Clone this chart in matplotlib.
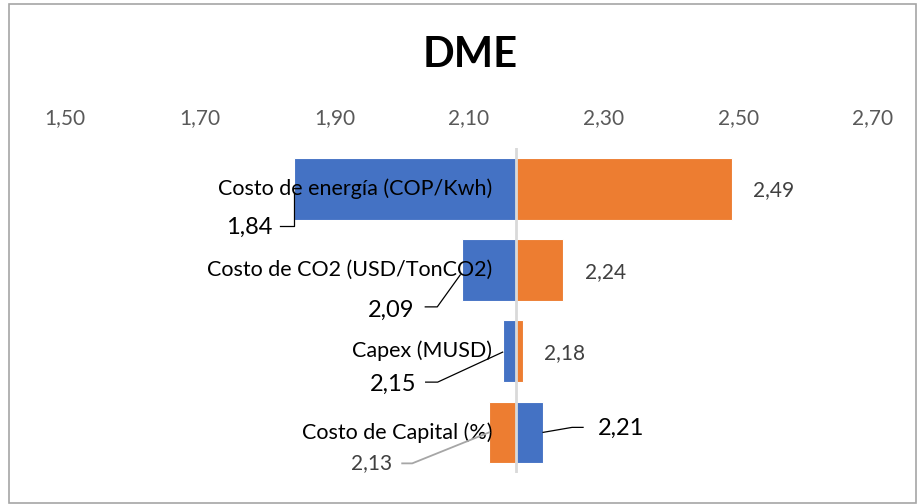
import matplotlib.pyplot as plt
import numpy as np
from matplotlib.patches import Rectangle

# sensitivity of DME cost to each input
categories = ['Costo de energía (COP/Kwh)', 'Costo de CO2 (USD/TonCO2)',
              'Capex (MUSD)', 'Costo de Capital (%)']
base = 2.17
blue_vals = [1.84, 2.09, 2.15, 2.21]
orange_vals = [2.49, 2.24, 2.18, 2.13]
ticks = [1.50, 1.70, 1.90, 2.10, 2.30, 2.50, 2.70]

BLUE = '#4472C4'
ORANGE = '#ED7D31'

# label offsets in pixels from the bar end (dx right, dy down)
blue_label_px = [(-45, 39), (-71, 40), (-110, 33), (78, -4)]
# leader: start, elbow, end on the bar
blue_leader_px = [((-14, 37), (0, 37), (0, 4)),
                  ((-37, 37), (-25, 37), (-2, 5)),
                  ((-77, 31), (-65, 31), (0, 1)),
                  ((40, -5), (29, -5), (0, 0))]
orange_label_px = [(42, 1), (42, 2), (42, 2), (-118, 31)]
orange_leader_px = [None, None, None, ((-87, 31), (-77, 31), (0, 0))]


def fmt(v):
    return f'{v:.2f}'.replace('.', ',')


plt.rcParams['font.family'] = ['Lato', 'DejaVu Sans']

fig = plt.figure(figsize=(9.18, 5.04), dpi=100)
ax = fig.add_axes([65 / 918, 31 / 504, 808 / 918, 325 / 504])

y = np.arange(len(categories))
blue = np.array(blue_vals)
orange = np.array(orange_vals)
ax.barh(y, blue - base, left=base, height=0.76, color=BLUE, edgecolor='white', linewidth=0.8)
ax.barh(y, orange - base, left=base, height=0.76, color=ORANGE, edgecolor='white', linewidth=0.8)
ax.axvline(base, color='#D9D9D9', lw=2, zorder=3)

ax.set_xlim(1.5, 2.7)
ax.set_ylim(3.5, -0.5)
ax.set_xticks(ticks)
ax.set_xticklabels([fmt(t) for t in ticks])
ax.xaxis.tick_top()
ax.tick_params(axis='x', length=0, pad=14, labelsize=15, labelcolor='#595959')
ax.set_yticks([])
for s in ax.spines.values():
    s.set_visible(False)

to_data = ax.transData.inverted()


def px_to_data(x, yv, dx, dy):
    # offset in image pixels (dy down) from a data point
    px, py = ax.transData.transform((x, yv))
    return to_data.transform((px + dx, py - dy))


def leader(x, yv, offsets, color, lw):
    pts = [px_to_data(x, yv, dx, dy) for dx, dy in offsets]
    ax.plot([p[0] for p in pts], [p[1] for p in pts], color=color, lw=lw, zorder=4)


# category names, right aligned just left of the base line
for i, name in enumerate(categories):
    tx, ty = px_to_data(base, i, -24, 0)
    ax.text(tx, ty, name, ha='right', va='center', fontsize=15.5, color='black', zorder=4)

# low-side values with leader lines
for i, v in enumerate(blue_vals):
    tx, ty = px_to_data(v, i, *blue_label_px[i])
    ax.text(tx, ty, fmt(v), ha='center', va='center', fontsize=17, color='black', zorder=4)
    leader(v, i, blue_leader_px[i], 'black', 0.9)

# high-side values
for i, v in enumerate(orange_vals):
    tx, ty = px_to_data(v, i, *orange_label_px[i])
    ax.text(tx, ty, fmt(v), ha='center', va='center', fontsize=15, color='#404040', zorder=4)
    if orange_leader_px[i] is not None:
        leader(v, i, orange_leader_px[i], '#A6A6A6', 1.3)

fig.text(470 / 918, 1 - 55 / 504, 'DME', ha='center', va='center',
         fontsize=30, fontweight='bold', color='black')

fig.patches.append(Rectangle((9 / 918, 1 / 504), 907 / 918, 499 / 504, transform=fig.transFigure,
                             fill=False, edgecolor='#A6A6A6', lw=1.2))

fig.savefig('out.png', dpi=100)
